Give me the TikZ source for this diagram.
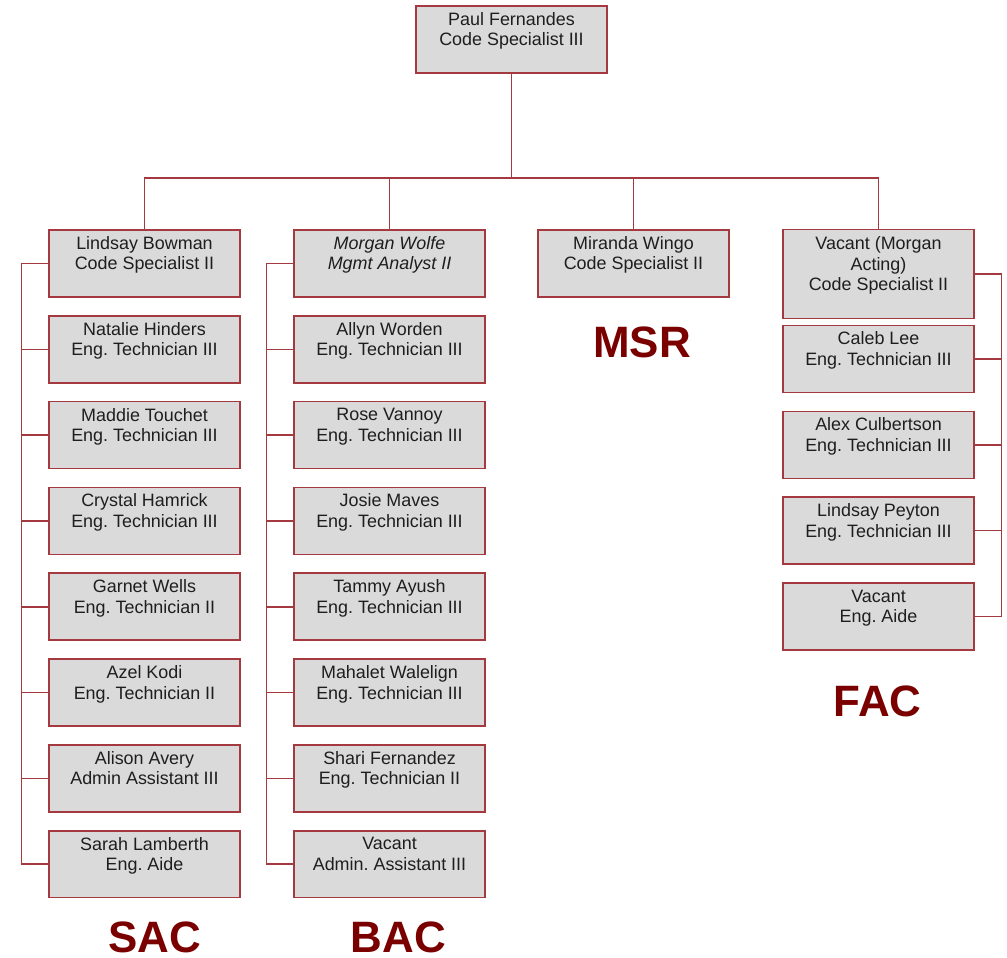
\documentclass[tikz,border=0pt]{standalone}
\usepackage{fontspec}
\setmainfont{Liberation Sans}
\usetikzlibrary{positioning}

\definecolor{linered}{RGB}{164,58,64}
\definecolor{boxgray}{RGB}{218,218,218}
\definecolor{textgray}{RGB}{30,30,30}
\definecolor{unitred}{RGB}{122,0,0}
\newcommand{\boxfont}{\fontsize{10.2}{11.74}\selectfont\frenchspacing}
\newcommand{\unitfont}{\fontsize{25}{30}\selectfont\bfseries}

\begin{document}
\begin{tikzpicture}[
		x=0.02cm, y=-0.02cm,
		node distance=0.345cm,
		box/.style={rectangle, draw=linered, fill=boxgray, line width=0.9pt, minimum width=3.83cm, minimum height=1.34cm, align=center, inner sep=2pt, text=textgray, font=\boxfont},
		link/.style={draw=linered, line width=0.9pt},
		unit/.style={text=unitred, font=\unitfont, anchor=base, inner sep=0pt}
		]
		\useasboundingbox (0,0) rectangle (1007,957);
		% head
		\node[box] (paul) at (511.5,39.5) {Paul Fernandes\\Code Specialist III\\\mbox{}};
		% SAC
		\node[box] (sac1) at (144.5,263.5) {Lindsay Bowman\\Code Specialist II\\\mbox{}};
		\node[box, below=of sac1] (sac2) {Natalie Hinders\\Eng. Technician III\\\mbox{}};
		\node[box, below=of sac2] (sac3) {Maddie Touchet\\Eng. Technician III\\\mbox{}};
		\node[box, below=of sac3] (sac4) {Crystal Hamrick\\Eng. Technician III\\\mbox{}};
		\node[box, below=of sac4] (sac5) {Garnet Wells\\Eng. Technician II\\\mbox{}};
		\node[box, below=of sac5] (sac6) {Azel Kodi\\Eng. Technician II\\\mbox{}};
		\node[box, below=of sac6] (sac7) {Alison Avery\\Admin Assistant III\\\mbox{}};
		\node[box, below=of sac7] (sac8) {Sarah Lamberth\\Eng. Aide\\\mbox{}};
		% BAC
		\node[box] (bac1) at (389.5,263.5) {\itshape Morgan Wolfe\\\itshape Mgmt Analyst II\\\mbox{}};
		\node[box, below=of bac1] (bac2) {Allyn Worden\\Eng. Technician III\\\mbox{}};
		\node[box, below=of bac2] (bac3) {Rose Vannoy\\Eng. Technician III\\\mbox{}};
		\node[box, below=of bac3] (bac4) {Josie Maves\\Eng. Technician III\\\mbox{}};
		\node[box, below=of bac4] (bac5) {Tammy Ayush\\Eng. Technician III\\\mbox{}};
		\node[box, below=of bac5] (bac6) {Mahalet Walelign\\Eng. Technician III\\\mbox{}};
		\node[box, below=of bac6] (bac7) {Shari Fernandez\\Eng. Technician II\\\mbox{}};
		\node[box, below=of bac7] (bac8) {Vacant\\Admin. Assistant III\\\mbox{}};
		% MSR
		\node[box] (msr1) at (633.5,263.5) {Miranda Wingo\\Code Specialist II\\\mbox{}};
		% FAC
		\node[box, minimum height=1.78cm] (fac1) at (878.5,274) {Vacant (Morgan\\Acting)\\Code Specialist II\\\mbox{}};
		\node[box, below=0.11cm of fac1] (fac2) {Caleb Lee\\Eng. Technician III\\\mbox{}};
		\node[box, below=of fac2] (fac3) {Alex Culbertson\\Eng. Technician III\\\mbox{}};
		\node[box, below=of fac3] (fac4) {Lindsay Peyton\\Eng. Technician III\\\mbox{}};
		\node[box, below=of fac4] (fac5) {Vacant\\Eng. Aide\\\mbox{}};

		% links from the head
		\coordinate (bus) at (511.5,178);
		\foreach \n in {sac1,bac1,msr1,fac1}
			\draw[link] (paul.south) -- (bus) -| (\n.north);

		% side trunks
		\coordinate (sactrunk) at ([xshift=-0.53cm]sac1.west);
		\draw[link] (sac1.west) -- (sactrunk);
		\foreach \n in {2,...,8}
			\draw[link] (sac\n.west) -| (sactrunk);
		\coordinate (bactrunk) at ([xshift=-0.53cm]bac1.west);
		\draw[link] (bac1.west) -- (bactrunk);
		\foreach \n in {2,...,8}
			\draw[link] (bac\n.west) -| (bactrunk);
		\coordinate (factrunk) at ([xshift=0.53cm]fac1.east);
		\draw[link] (fac1.east) -- (factrunk);
		\foreach \n in {2,...,5}
			\draw[link] (fac\n.east) -| (factrunk);

		% unit names
		\node[unit] (saclabel) at (154.5,952) {SAC};
		\node[unit] (baclabel) at (398.5,952) {BAC};
		\node[unit] (msrlabel) at (642,357) {MSR};
		\node[unit] (faclabel) at (877.5,716) {FAC};
\end{tikzpicture}
\end{document}
